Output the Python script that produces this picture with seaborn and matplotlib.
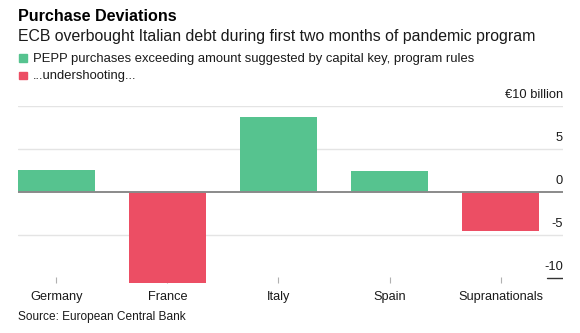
import matplotlib
matplotlib.use("Agg")
import numpy as np
import pandas as pd
import seaborn as sns
import matplotlib.pyplot as plt
from matplotlib import transforms
from matplotlib.patches import Rectangle

# ---- data ----
categories = ["Germany", "France", "Italy", "Spain", "Supranationals"]
values = [2.5, -10.6, 8.7, 2.4, -4.6]
ytick_values = [10, 5, 0, -5, -10]
ytick_labels = ["€10 billion", "5", "0", "-5", "-10"]
legend_labels = ["PEPP purchases exceeding amount suggested by capital key, program rules",
                 "...undershooting..."]
title = "Purchase Deviations"
subtitle = "ECB overbought Italian debt during first two months of pandemic program"
source = "Source: European Central Bank"

GREEN = "#56C38F"
RED = "#EC4E64"

df = pd.DataFrame({"country": categories, "value": values})
df["sign"] = np.where(df["value"] >= 0, "pos", "neg")

sns.set_theme(style="white")
plt.rcParams["font.family"] = ["Liberation Sans", "DejaVu Sans"]

W, H = 580, 333
fig = plt.figure(figsize=(W / 100, H / 100), dpi=100)
ax_left, ax_right, ax_top, ax_bottom = 17.6, 563, 106, 283
ax = fig.add_axes([ax_left / W, 1 - ax_bottom / H, (ax_right - ax_left) / W, (ax_bottom - ax_top) / H])

sns.barplot(data=df, x="country", y="value", hue="sign", palette={"pos": GREEN, "neg": RED},
            width=0.695, dodge=False, legend=False, saturation=1, linewidth=0, ax=ax, zorder=2)

ax.set_xlim(-0.347, 4.56)
ax.set_ylim(-10.6, 10)
for s in ax.spines.values():
    s.set_visible(False)
ax.set_xlabel("")
ax.set_ylabel("")
ax.set_yticks([])

for v in ytick_values:
    if v in (10, 5, -5):
        ax.axhline(v, color="#e4e4e4", lw=1, zorder=0)
ax.axhline(0, color="#8a8a8a", lw=1.4, zorder=3)
ax.plot([(546.5 - ax_left) / (ax_right - ax_left), 1], [-10, -10], color="#333333", lw=1,
        transform=ax.get_yaxis_transform(), zorder=3)

lab_tr = transforms.offset_copy(ax.get_yaxis_transform(), fig=fig, x=0, y=8, units="dots")
for v, l in zip(ytick_values, ytick_labels):
    ax.text(1.0, v, l, transform=lab_tr, ha="right", va="baseline", fontsize=9.3, color="#1a1a1a")

ax.tick_params(axis="x", direction="in", length=4, width=0.8, color="#b0b0b0", pad=6,
               labelsize=9.2, labelcolor="#1a1a1a", bottom=True)

x0 = ax_left / W
fig.text(x0, 1 - 20.7 / H, title, fontsize=11.6, fontweight="bold", va="baseline", color="#000000")
fig.text(x0, 1 - 40.7 / H, subtitle, fontsize=11.45, va="baseline", color="#1a1a1a")

for i, (lab, col) in enumerate(zip(legend_labels, [GREEN, RED])):
    base = 61.7 + i * 17.5
    fig.patches.append(Rectangle((19 / W, 1 - base / H), 8 / W, 7.7 / H, color=col,
                                 transform=fig.transFigure, figure=fig))
    fig.text(33 / W, 1 - base / H, lab, fontsize=9.35, va="baseline", color="#1a1a1a")

fig.text(x0, 1 - 320 / H, source, fontsize=8.6, va="baseline", color="#1a1a1a")

fig.savefig("out.png", dpi=100)
